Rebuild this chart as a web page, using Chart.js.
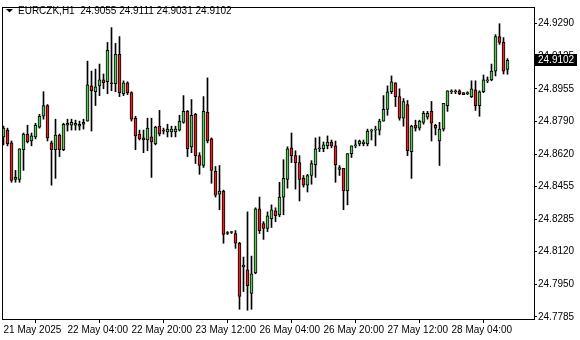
<!DOCTYPE html>
<html><head><meta charset="utf-8">
<script src="https://cdn.jsdelivr.net/npm/chart.js@4/dist/chart.umd.min.js"></script>
<style>html,body{margin:0;padding:0;background:#fff;overflow:hidden}canvas{display:block}</style>
</head><body>
<canvas id="c" width="580" height="340"></canvas>
<script>
const symbol = 'EURCZK,H1';
const open = [
24.8709,24.8744,24.8678,24.8491,24.8491,24.8643,24.8724,24.8688,24.8709,24.8759,
24.8815,24.8870,24.8678,24.8643,24.8719,24.8643,24.8769,24.8769,24.8769,24.8764,
24.8774,24.8790,24.8971,24.8941,24.8971,24.9002,24.8992,24.8987,24.8982,24.9133,
24.8931,24.8987,24.8936,24.8805,24.8724,24.8704,24.8693,24.8709,24.8673,24.8764,
24.8744,24.8734,24.8734,24.8734,24.8744,24.8784,24.8840,24.8658,24.8825,24.8613,
24.8562,24.8835,24.8699,24.8532,24.8415,24.8431,24.8218,24.8218,24.8213,24.8163,
24.8041,24.8026,24.7905,24.8011,24.8340,24.8264,24.8239,24.8289,24.8330,24.8309,
24.8400,24.8491,24.8653,24.8613,24.8577,24.8496,24.8461,24.8511,24.8567,24.8648,
24.8648,24.8663,24.8683,24.8663,24.8542,24.8547,24.8431,24.8623,24.8663,24.8673,
24.8673,24.8673,24.8739,24.8744,24.8744,24.8790,24.8850,24.8941,24.8987,24.8916,
24.8805,24.8875,24.8633,24.8769,24.8754,24.8784,24.8810,24.8840,24.8769,24.8688,
24.8749,24.8870,24.8941,24.8941,24.8946,24.8936,24.8931,24.8916,24.8951,24.8870,
24.8941,24.8997,24.9002,24.9047,24.9224,24.9194,24.9055];
const high = [
24.8764,24.8754,24.8688,24.8537,24.8648,24.8729,24.8769,24.8729,24.8779,24.8825,
24.8941,24.8875,24.8688,24.8800,24.8724,24.8779,24.8800,24.8800,24.8795,24.8790,
24.8800,24.9098,24.9047,24.9057,24.9083,24.9032,24.9194,24.9270,24.9189,24.9224,
24.8997,24.8992,24.8941,24.8815,24.8744,24.8744,24.8805,24.8805,24.8764,24.8845,
24.8754,24.8774,24.8764,24.8764,24.8820,24.8921,24.8845,24.8901,24.8830,24.8628,
24.8916,24.9012,24.8704,24.8557,24.8562,24.8436,24.8223,24.8223,24.8228,24.8168,
24.8092,24.8324,24.8097,24.8345,24.8400,24.8274,24.8324,24.8360,24.8345,24.8476,
24.8592,24.8658,24.8729,24.8638,24.8613,24.8511,24.8517,24.8587,24.8704,24.8709,
24.8683,24.8714,24.8693,24.8688,24.8562,24.8547,24.8623,24.8663,24.8693,24.8693,
24.8693,24.8749,24.8749,24.8764,24.8800,24.8921,24.8971,24.9022,24.8987,24.8956,
24.8906,24.8896,24.8769,24.8795,24.8795,24.8840,24.8840,24.8891,24.8774,24.8784,
24.8881,24.8946,24.8951,24.8951,24.8951,24.8936,24.8941,24.8997,24.8997,24.8946,
24.9027,24.9017,24.9083,24.9234,24.9290,24.9219,24.9111];
const low = [
24.8668,24.8663,24.8476,24.8476,24.8476,24.8537,24.8678,24.8663,24.8699,24.8754,
24.8800,24.8688,24.8461,24.8496,24.8608,24.8638,24.8739,24.8744,24.8744,24.8744,
24.8749,24.8790,24.8739,24.8870,24.8921,24.8956,24.8931,24.8946,24.8941,24.8916,
24.8921,24.8926,24.8790,24.8643,24.8693,24.8628,24.8638,24.8501,24.8668,24.8714,
24.8724,24.8709,24.8709,24.8709,24.8739,24.8779,24.8608,24.8628,24.8572,24.8517,
24.8552,24.8678,24.8471,24.8400,24.8335,24.8163,24.8208,24.8213,24.8137,24.7824,
24.7915,24.7819,24.7824,24.8006,24.8213,24.8183,24.8223,24.8244,24.8274,24.8299,
24.8309,24.8446,24.8577,24.8441,24.8380,24.8451,24.8426,24.8466,24.8501,24.8633,
24.8633,24.8648,24.8653,24.8476,24.8511,24.8335,24.8360,24.8603,24.8653,24.8663,
24.8663,24.8663,24.8693,24.8663,24.8719,24.8790,24.8820,24.8931,24.8865,24.8795,
24.8764,24.8613,24.8496,24.8739,24.8744,24.8774,24.8800,24.8688,24.8719,24.8562,
24.8739,24.8840,24.8931,24.8931,24.8926,24.8926,24.8926,24.8911,24.8845,24.8815,
24.8936,24.8987,24.8997,24.9022,24.9184,24.9032,24.9031];
const close = [
24.8754,24.8673,24.8486,24.8501,24.8648,24.8724,24.8683,24.8714,24.8769,24.8815,
24.8870,24.8704,24.8643,24.8719,24.8643,24.8774,24.8779,24.8784,24.8779,24.8774,
24.8784,24.8977,24.8946,24.8966,24.9002,24.8987,24.9153,24.8982,24.9133,24.8936,
24.8987,24.8936,24.8800,24.8714,24.8699,24.8693,24.8754,24.8683,24.8759,24.8724,
24.8739,24.8749,24.8749,24.8749,24.8790,24.8840,24.8648,24.8820,24.8613,24.8562,
24.8840,24.8688,24.8537,24.8410,24.8431,24.8208,24.8213,24.8218,24.8163,24.7890,
24.8051,24.7945,24.8006,24.8340,24.8228,24.8239,24.8304,24.8335,24.8304,24.8400,
24.8496,24.8648,24.8613,24.8577,24.8491,24.8461,24.8511,24.8572,24.8648,24.8648,
24.8668,24.8683,24.8663,24.8567,24.8552,24.8431,24.8623,24.8663,24.8668,24.8688,
24.8683,24.8739,24.8739,24.8744,24.8790,24.8850,24.8941,24.8992,24.8916,24.8805,
24.8891,24.8638,24.8764,24.8754,24.8790,24.8830,24.8830,24.8779,24.8754,24.8749,
24.8881,24.8946,24.8946,24.8946,24.8931,24.8926,24.8931,24.8956,24.8870,24.8941,
24.9002,24.9002,24.9047,24.9224,24.9194,24.9047,24.9102];
const xTickIndex = [0,16,32,48,64,80,96,112];
const xTickLabels = ['21 May 2025','22 May 04:00','22 May 20:00','23 May 12:00','26 May 04:00','26 May 20:00','27 May 12:00','28 May 04:00'];
const yTicks = [24.9290,24.9125,24.8955,24.8790,24.8620,24.8455,24.8285,24.8120,24.7950,24.7785];

const UP = '#5ac85a', DOWN = '#e02424';
const FONT = 'Liberation Sans';
const n = open.length;
const wickData = open.map((o,i)=>({x:i, y:[low[i], high[i]]}));
const bodyData = open.map((o,i)=>({x:i, y:[o, close[i]]}));
const bodyColors = open.map((o,i)=> close[i] >= o ? UP : DOWN);

const framePlugin = {
  id:'frame',
  beforeDraw(chart){
    const ctx = chart.ctx;
    ctx.save(); ctx.fillStyle='#fff'; ctx.fillRect(0,0,chart.width,chart.height); ctx.restore();
  },
  afterDraw(chart){
    const {ctx, chartArea:a, scales:{y}} = chart;
    ctx.save();
    ctx.strokeStyle='#000'; ctx.lineWidth=1;
    ctx.strokeRect(a.left-0.5, a.top+0.5, a.right-a.left+1, a.bottom-a.top);
    const last = close[n-1];
    const py = Math.round(y.getPixelForValue(last));
    ctx.fillStyle='#000';
    ctx.fillRect(a.right+1, py-6, 42, 12);
    ctx.fillStyle='#fff';
    ctx.font = '10px "'+FONT+'"';
    ctx.textBaseline='middle'; ctx.textAlign='left';
    ctx.fillText(last.toFixed(4), a.right+4, py+0.5);
    ctx.fillStyle='#000';
    ctx.beginPath(); ctx.moveTo(6,9); ctx.lineTo(13,9); ctx.lineTo(9.5,12.5); ctx.closePath(); ctx.fill();
    ctx.fillText(symbol+'  '+open[n-1].toFixed(4)+' '+high[n-1].toFixed(4)+' '+low[n-1].toFixed(4)+' '+close[n-1].toFixed(4), 18, 11);
    ctx.restore();
  }
};

new Chart(document.getElementById('c'), {
  type:'bar',
  data:{ datasets:[
    {data:wickData, backgroundColor:'#000', borderWidth:0, barThickness:1, grouped:false, order:2},
    {data:bodyData, backgroundColor:bodyColors, borderColor:'#000', borderWidth:1, borderSkipped:false,
     barThickness:3, grouped:false, minBarLength:1, order:1}
  ]},
  options:{
    responsive:false, animation:false, events:[], devicePixelRatio:1,
    layout:{padding:{left:3, top:2, right:0, bottom:0}, autoPadding:false},
    plugins:{legend:{display:false}, tooltip:{enabled:false}},
    scales:{
      x:{type:'linear', min:-0.125, max:132.625, offset:false, bounds:'data', position:'bottom',
        afterBuildTicks:s=>{ s.ticks = xTickIndex.map(v=>({value:v})); },
        afterFit:s=>{ s.height = 21; },
        ticks:{autoSkip:false, maxRotation:0, minRotation:0, align:'start', padding:1, color:'#000',
          font:{family:FONT, size:10}, callback:v=> xTickLabels[xTickIndex.indexOf(v)]},
        grid:{display:true, drawOnChartArea:false, drawTicks:true, tickLength:4, color:'#000'},
        border:{display:false}},
      y:{type:'linear', position:'right', min:24.7774, max:24.9376, bounds:'data',
        afterBuildTicks:s=>{ s.ticks = yTicks.map(v=>({value:v})); },
        afterFit:s=>{ s.width = 46; },
        ticks:{autoSkip:false, padding:1, color:'#000', font:{family:FONT, size:10}, callback:v=>v.toFixed(4)},
        grid:{display:true, drawOnChartArea:false, drawTicks:true, tickLength:3, color:'#000'},
        border:{display:false}}
    }
  },
  plugins:[framePlugin]
});
</script>
</body></html>
